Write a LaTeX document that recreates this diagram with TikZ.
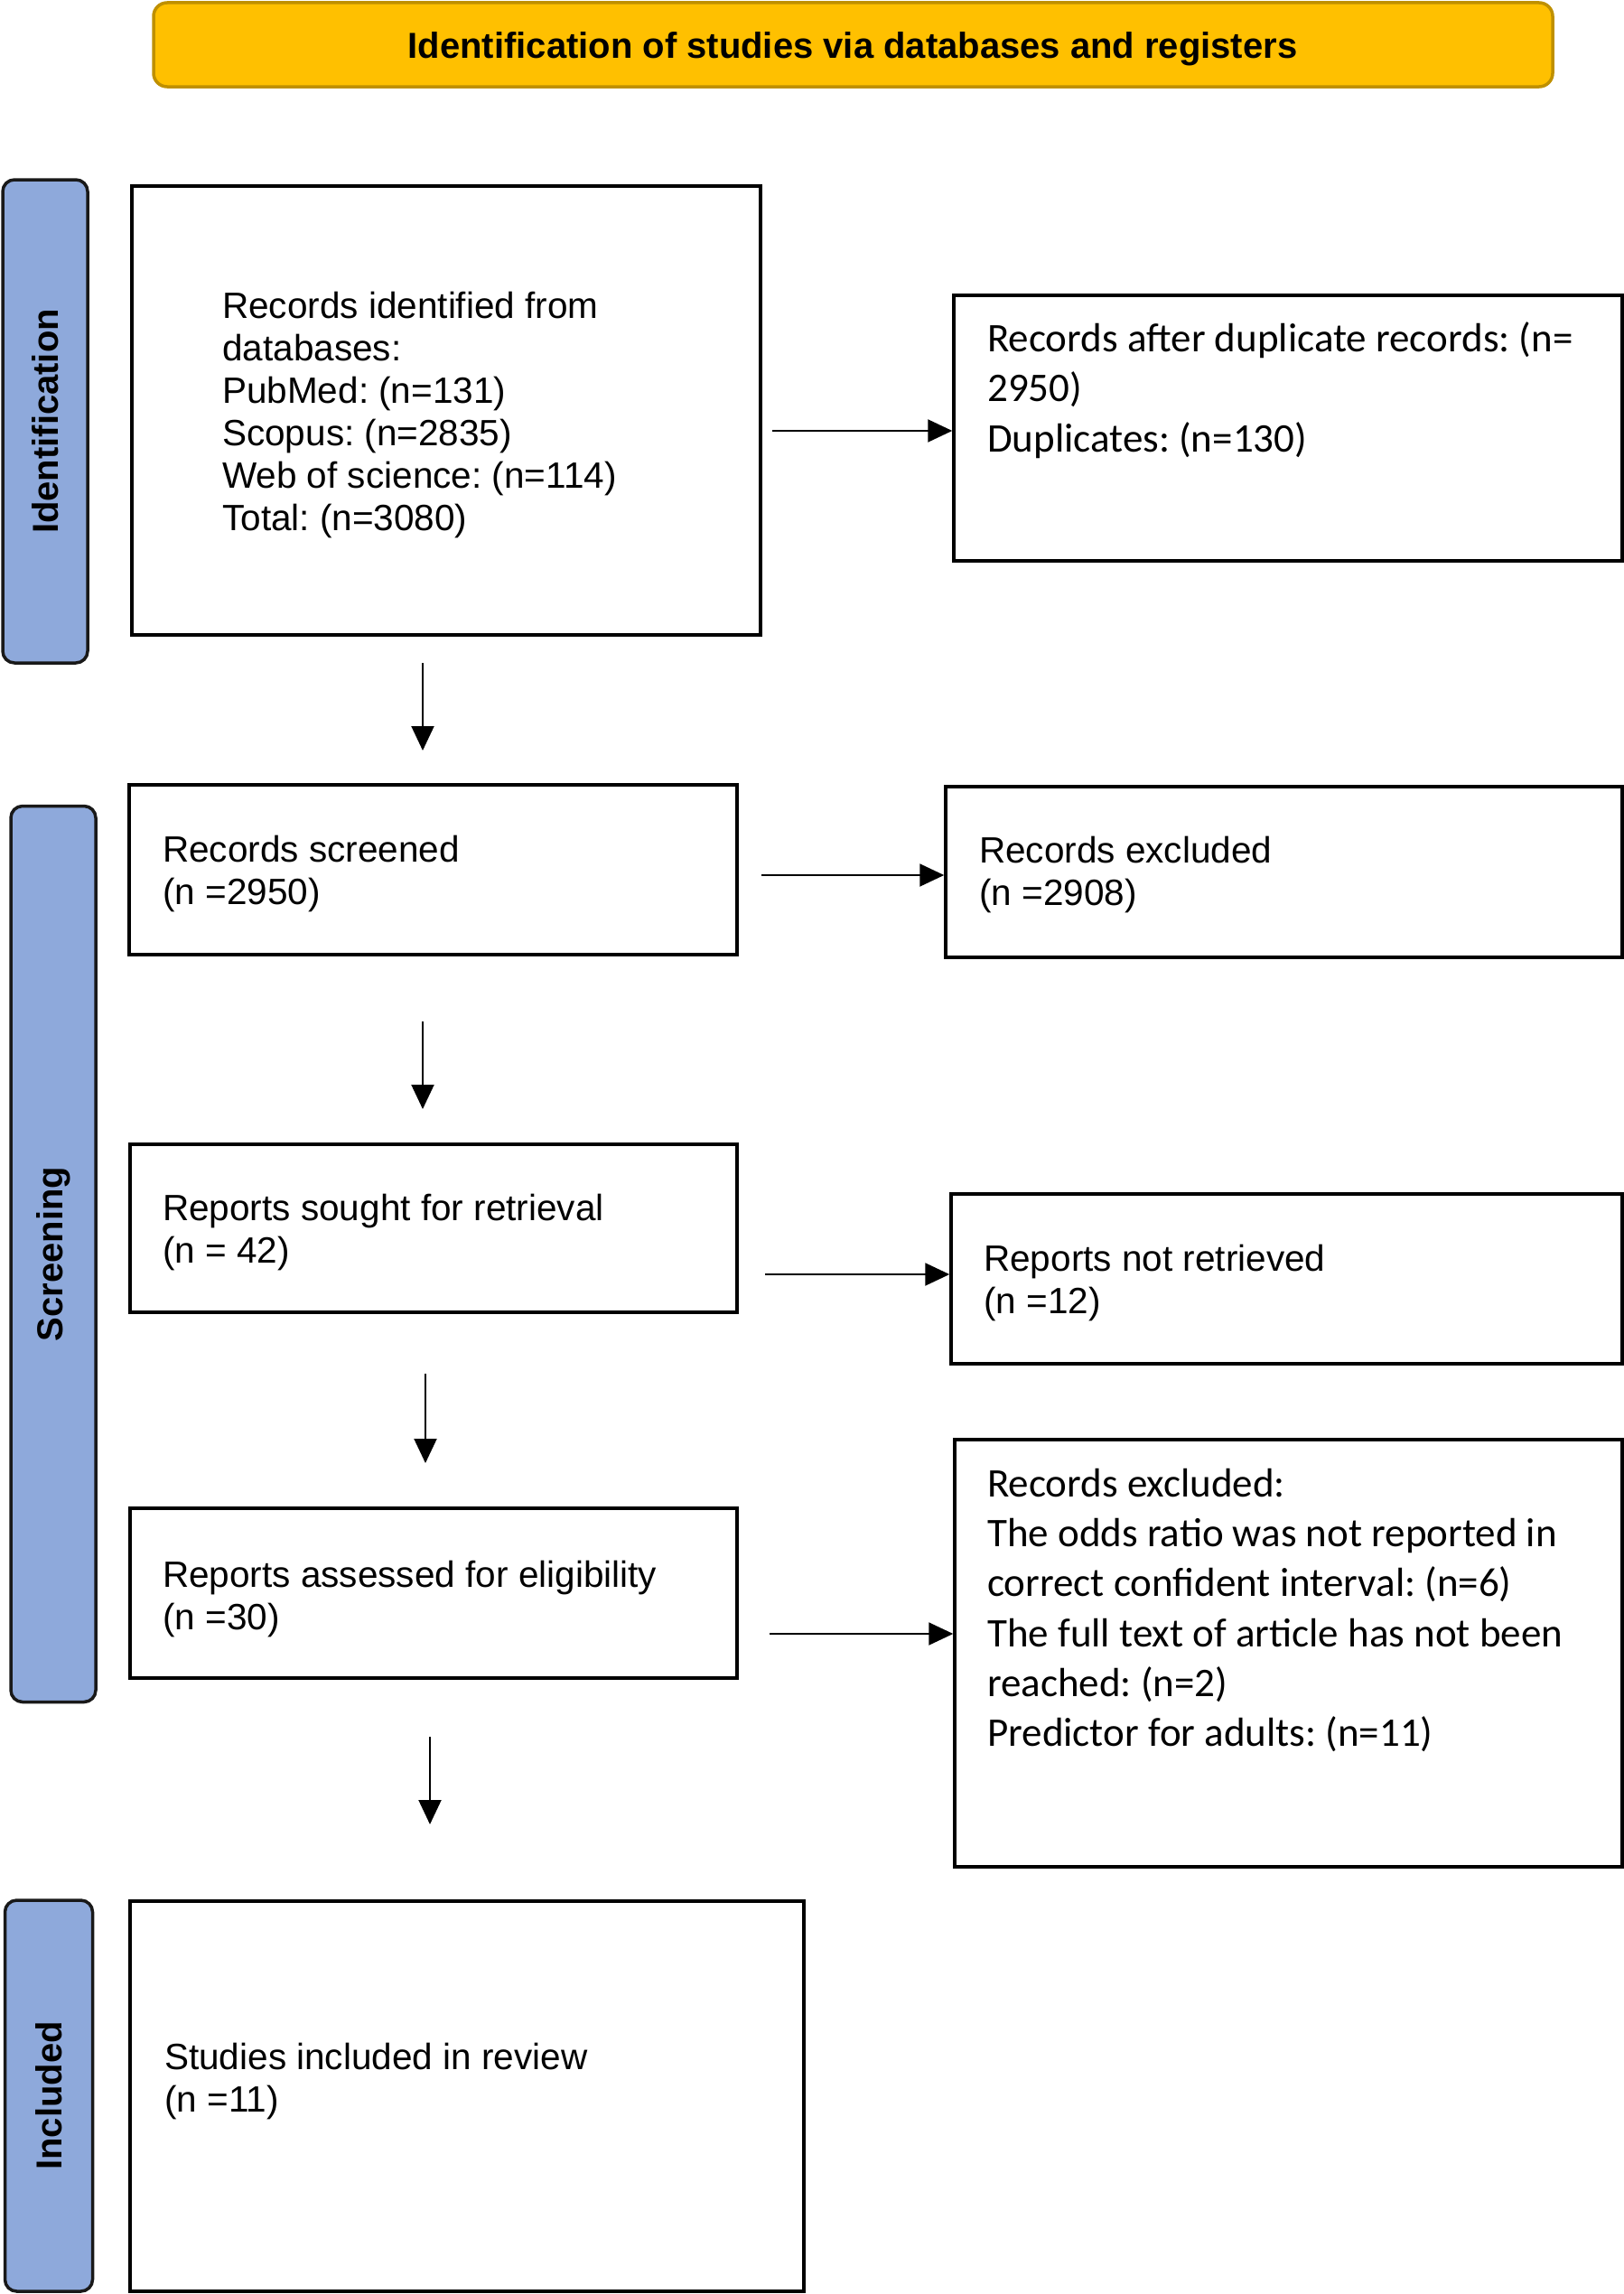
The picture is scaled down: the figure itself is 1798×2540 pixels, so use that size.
\documentclass[tikz,border=0pt]{standalone}
\usepackage{fontspec}
\setmainfont{Liberation Sans}
\newfontfamily\calib{Carlito}
\usetikzlibrary{arrows.meta}
\frenchspacing
\definecolor{titlefill}{HTML}{FFC000}
\definecolor{titleedge}{HTML}{BF9000}
\definecolor{sidefill}{HTML}{8EA9DB}
\tikzset{
  box/.style={draw=black, line width=3.5pt, fill=white, inner sep=0pt},
  sidebox/.style={draw=black!90, line width=3.5pt, fill=sidefill, rounded corners=13pt, inner sep=0pt},
  titlebox/.style={draw=titleedge, line width=3.5pt, fill=titlefill, rounded corners=15pt, inner sep=0pt},
  ltxt/.style={align=left, inner sep=0pt, anchor=west, font=\fontsize{40.5}{47}\selectfont},
  ctxt/.style={align=left, inner sep=0pt, anchor=west, font=\calib\fontsize{45}{55.3}\selectfont},
  sidetxt/.style={inner sep=0pt, rotate=90, font=\bfseries\fontsize{40}{48}\selectfont},
  arr/.style={-{Triangle[length=27pt,width=25pt]}, line width=2pt}
}
\begin{document}
\begin{tikzpicture}[x=1pt,y=-1pt]
\useasboundingbox (0,0) rectangle (1798,2540);

% title
\node[titlebox, minimum width=1549pt, minimum height=93pt] (title) at (944.5,49.5) {};
\node[inner sep=0pt, font=\bfseries\fontsize{40}{48}\selectfont] (titletxt) at (944,54) {Identification of studies via databases and registers};

% side labels
\node[sidebox, minimum width=94pt, minimum height=535pt] (idlab) at (50,466.5) {};
\node[sidetxt] (idtxt) at (idlab.center) {Identification};
\node[sidebox, minimum width=94pt, minimum height=992pt] (scrlab) at (59,1388.5) {};
\node[sidetxt] (scrtxt) at (scrlab.center) {Screening};
\node[sidebox, minimum width=97pt, minimum height=433pt] (inclab) at (54,2320.5) {};
\node[sidetxt] (inctxt) at (inclab.center) {Included};

% left column boxes
\node[box, minimum width=696pt, minimum height=497pt] (b1) at (494,454.5) {};
\node[ltxt] (t1) at (246,460) {Records identified from\\databases:\\PubMed: (n=131)\\Scopus: (n=2835)\\Web of science: (n=114)\\Total: (n=3080)};

\node[box, minimum width=673pt, minimum height=188pt] (scr) at (479.5,963) {};
\node[ltxt] (tscr) at (180,968) {Records screened\\(n =2950)};

\node[box, minimum width=672pt, minimum height=186pt] (sought) at (480,1360) {};
\node[ltxt] (tsought) at (180,1365) {Reports sought for retrieval\\(n = 42)};

\node[box, minimum width=672pt, minimum height=188pt] (assess) at (480,1764) {};
\node[ltxt] (tassess) at (180,1770) {Reports assessed for eligibility\\(n =30)};

\node[box, minimum width=746pt, minimum height=432pt] (incl) at (517,2321) {};
\node[ltxt] (tincl) at (182,2304) {Studies included in review\\(n =11)};

% right column boxes
\node[box, minimum width=740pt, minimum height=294pt] (dup) at (1426,474) {};
\node[ctxt] (tdup) at (1093,432) {Records after duplicate records: (n=\\2950)\\Duplicates: (n=130)};

\node[box, minimum width=749pt, minimum height=189pt] (exc) at (1421.5,965.5) {};
\node[ltxt] (texc) at (1084,969) {Records excluded\\(n =2908)};

\node[box, minimum width=743pt, minimum height=188pt] (notret) at (1424.5,1416) {};
\node[ltxt] (tnotret) at (1089,1421) {Reports not retrieved\\(n =12)};

\node[box, minimum width=739pt, minimum height=473pt] (exc2) at (1426.5,1830.5) {};
\node[ctxt] (texc2) at (1093,1783) {Records excluded:\\The odds ratio was not reported in\\correct confident interval: (n=6)\\The full text of article has not been\\reached: (n=2)\\Predictor for adults: (n=11)};

% vertical arrows
\coordinate (d1s) at (468,734);  \coordinate (d1e) at (468,831);
\coordinate (d2s) at (468,1131); \coordinate (d2e) at (468,1228);
\coordinate (d3s) at (471,1521); \coordinate (d3e) at (471,1620);
\coordinate (d4s) at (476,1923); \coordinate (d4e) at (476,2020);
\draw[arr] (d1s) -- (d1e);
\draw[arr] (d2s) -- (d2e);
\draw[arr] (d3s) -- (d3e);
\draw[arr] (d4s) -- (d4e);

% horizontal arrows
\coordinate (h1s) at (855,477);
\coordinate (h2s) at (843,969);
\coordinate (h3s) at (847,1411);
\coordinate (h4s) at (852,1809);
\draw[arr] (h1s) -- (h1s -| dup.west);
\draw[arr] (h2s) -- (h2s -| exc.west);
\draw[arr] (h3s) -- (h3s -| notret.west);
\draw[arr] (h4s) -- (h4s -| exc2.west);
\end{tikzpicture}
\end{document}
